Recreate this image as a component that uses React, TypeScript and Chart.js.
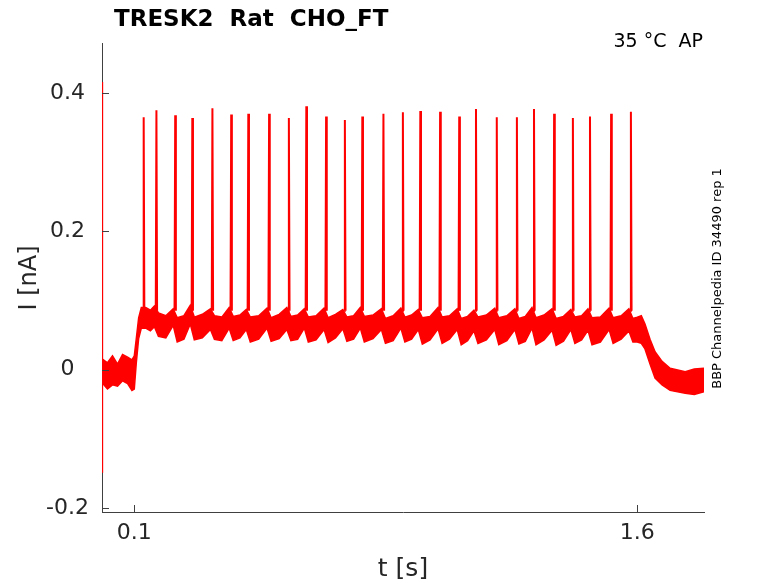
import React, { useEffect, useRef } from "react";
import { Chart, registerables } from "chart.js";

Chart.register(...registerables);

// ---- data ----
const xTicks = [0.1, 1.6];
const yTicks = [-0.2, 0, 0.2, 0.4];

const spikeTimes = [
  0.128, 0.166, 0.222, 0.273, 0.333, 0.389, 0.44, 0.502, 0.561, 0.613, 0.672, 0.728, 0.78, 0.843,
  0.901, 0.953, 1.012, 1.069, 1.119, 1.181, 1.241, 1.292, 1.352, 1.408, 1.459, 1.522, 1.581,
];
const spikePeaks = [
  0.365, 0.375, 0.368, 0.364, 0.378, 0.369, 0.37, 0.37, 0.364, 0.381, 0.366, 0.361, 0.366, 0.37,
  0.372, 0.374, 0.373, 0.366, 0.377, 0.365, 0.365, 0.377, 0.37, 0.364, 0.366, 0.37, 0.373,
];
const spikeFoot = 0.085;

const transientTimes = [0.0038, 0.0042, 0.0047, 0.006];
const transientValues = [0.0, 0.416, -0.149, 0.0];

const bandTimes = [
  0.006, 0.02, 0.035, 0.05, 0.065, 0.08, 0.093, 0.1, 0.106, 0.113, 0.121,
  0.134, 0.148, 0.16,
  0.172, 0.194, 0.216,
  0.228, 0.248, 0.267,
  0.279, 0.303, 0.327,
  0.339, 0.361, 0.383,
  0.395, 0.415, 0.434,
  0.446, 0.471, 0.496,
  0.508, 0.532, 0.555,
  0.567, 0.587, 0.607,
  0.619, 0.642, 0.666,
  0.678, 0.7, 0.722,
  0.734, 0.754, 0.774,
  0.786, 0.812, 0.837,
  0.849, 0.872, 0.895,
  0.907, 0.927, 0.947,
  0.959, 0.982, 1.006,
  1.018, 1.04, 1.063,
  1.075, 1.094, 1.113,
  1.125, 1.15, 1.175,
  1.187, 1.211, 1.235,
  1.247, 1.266, 1.286,
  1.298, 1.322, 1.346,
  1.358, 1.38, 1.402,
  1.414, 1.434, 1.453,
  1.465, 1.49, 1.516,
  1.528, 1.552, 1.575,
  1.587, 1.6, 1.612, 1.623, 1.638, 1.653, 1.674, 1.698, 1.743, 1.77, 1.799,
];
const bandUpper = [
  0.015, 0.01, 0.02, 0.008, 0.022, 0.018, 0.014, 0.02, 0.045, 0.075, 0.09,
  0.09, 0.086, 0.092,
  0.082, 0.078, 0.088,
  0.075, 0.078, 0.093,
  0.076, 0.08, 0.088,
  0.078, 0.076, 0.09,
  0.077, 0.079, 0.087,
  0.076, 0.078, 0.089,
  0.075, 0.08, 0.09,
  0.077, 0.079, 0.088,
  0.076, 0.078, 0.089,
  0.075, 0.08, 0.087,
  0.076, 0.078, 0.09,
  0.077, 0.079, 0.088,
  0.074, 0.078, 0.089,
  0.076, 0.079, 0.087,
  0.075, 0.077, 0.09,
  0.076, 0.078, 0.088,
  0.074, 0.077, 0.086,
  0.076, 0.079, 0.089,
  0.075, 0.078, 0.088,
  0.074, 0.077, 0.09,
  0.075, 0.079, 0.088,
  0.074, 0.077, 0.087,
  0.076, 0.078, 0.088,
  0.075, 0.076, 0.089,
  0.075, 0.078, 0.088,
  0.074, 0.076, 0.078, 0.066, 0.044, 0.026, 0.012, 0.002, -0.003, 0.001, 0.002,
];
const bandLower = [
  -0.02, -0.028, -0.022, -0.024, -0.016, -0.02, -0.03, -0.028, 0.01, 0.045, 0.06,
  0.06, 0.056, 0.062,
  0.048, 0.046, 0.064,
  0.04, 0.044, 0.066,
  0.043, 0.046, 0.058,
  0.044, 0.042, 0.06,
  0.042, 0.046, 0.058,
  0.04, 0.044, 0.06,
  0.041, 0.045, 0.058,
  0.042, 0.044, 0.06,
  0.04, 0.043, 0.058,
  0.039, 0.046, 0.059,
  0.041, 0.044, 0.06,
  0.04, 0.045, 0.058,
  0.038, 0.042, 0.06,
  0.04, 0.044, 0.058,
  0.037, 0.043, 0.059,
  0.038, 0.044, 0.058,
  0.036, 0.042, 0.056,
  0.038, 0.043, 0.058,
  0.036, 0.042, 0.058,
  0.037, 0.041, 0.06,
  0.036, 0.043, 0.057,
  0.035, 0.041, 0.058,
  0.038, 0.043, 0.057,
  0.036, 0.04, 0.058,
  0.038, 0.044, 0.056,
  0.04, 0.04, 0.038, 0.03, 0.008, -0.012, -0.022, -0.03, -0.034, -0.036, -0.032,
];

const titleText = "TRESK2  Rat  CHO_FT";
const conditionText = "35 °C  AP";
const sideText = "BBP Channelpedia ID 34490 rep 1";
const xLabel = "t [s]";
const yLabel = "I [nA]";

const FONT = "'DejaVu Sans', 'Liberation Sans', sans-serif";
const RED = "#ff0000";
const AXIS = "#404040";
const TEXT = "#262626";

export default function App() {
  const ref = useRef<HTMLCanvasElement | null>(null);

  useEffect(() => {
    if (!ref.current) return;

    const lower = bandTimes.map((t, i) => ({ x: t, y: bandLower[i] }));
    const upper = bandTimes.map((t, i) => ({ x: t, y: bandUpper[i] }));
    const spikes: { x: number; y: number | null }[] = [];
    spikeTimes.forEach((t, i) => {
      spikes.push({ x: t - 0.002, y: spikeFoot });
      spikes.push({ x: t, y: spikePeaks[i] });
      spikes.push({ x: t + 0.002, y: spikeFoot });
      spikes.push({ x: t + 0.0021, y: null });
    });
    const transient = transientTimes.map((t, i) => ({ x: t, y: transientValues[i] }));

    const decor = {
      id: "decor",
      afterDraw(chart: any) {
        const { ctx, chartArea, scales } = chart;
        ctx.save();
        ctx.strokeStyle = AXIS;
        ctx.lineWidth = 1;
        yTicks.forEach((v) => {
          const y = Math.round(scales.y.getPixelForValue(v)) + 0.5;
          ctx.beginPath();
          ctx.moveTo(chartArea.left, y);
          ctx.lineTo(chartArea.left + 7, y);
          ctx.stroke();
        });
        xTicks.forEach((v) => {
          const x = Math.round(scales.x.getPixelForValue(v)) + 0.5;
          ctx.beginPath();
          ctx.moveTo(x, chartArea.bottom);
          ctx.lineTo(x, chartArea.bottom - 7);
          ctx.stroke();
        });

        ctx.fillStyle = "#000000";
        ctx.textBaseline = "alphabetic";
        ctx.textAlign = "left";
        ctx.font = `bold 23px ${FONT}`;
        ctx.fillText(titleText, 114, 26);

        ctx.font = `19px ${FONT}`;
        ctx.textAlign = "right";
        ctx.fillText(conditionText, 703, 47);

        ctx.fillStyle = TEXT;
        ctx.font = `25px ${FONT}`;
        ctx.textAlign = "center";
        ctx.fillText(xLabel, 403, 576);

        ctx.save();
        ctx.translate(36, 278);
        ctx.rotate(-Math.PI / 2);
        ctx.font = `24px ${FONT}`;
        ctx.textAlign = "center";
        ctx.fillText(yLabel, 0, 0);
        ctx.restore();

        ctx.save();
        ctx.translate(720.5, 278.5);
        ctx.rotate(-Math.PI / 2);
        ctx.fillStyle = "#000000";
        ctx.font = `13px ${FONT}`;
        ctx.textAlign = "center";
        ctx.fillText(sideText, 0, 0);
        ctx.restore();

        ctx.restore();
      },
    };

    const chart = new Chart(ref.current, {
      type: "line",
      data: {
        datasets: [
          {
            data: lower,
            borderColor: RED,
            borderWidth: 1.5,
            pointRadius: 0,
            fill: false,
          },
          {
            data: upper,
            borderColor: RED,
            borderWidth: 1.5,
            pointRadius: 0,
            backgroundColor: RED,
            fill: "-1",
          },
          {
            data: spikes as any,
            borderColor: RED,
            borderWidth: 2,
            pointRadius: 0,
            fill: false,
            spanGaps: false,
          },
          {
            data: transient,
            borderColor: RED,
            borderWidth: 1.5,
            pointRadius: 0,
            fill: false,
          },
        ],
      },
      options: {
        animation: false,
        responsive: true,
        maintainAspectRatio: false,
        devicePixelRatio: 1,
        parsing: false,
        normalized: true,
        layout: { padding: { top: 43, right: 74, left: 0, bottom: 0 } },
        plugins: {
          legend: { display: false },
          tooltip: { enabled: false },
          title: { display: false },
        },
        elements: { line: { tension: 0 } },
        scales: {
          x: {
            type: "linear",
            min: 0.0037,
            max: 1.799,
            afterFit: (s: any) => {
              s.height = 71;
            },
            afterBuildTicks: (s: any) => {
              s.ticks = xTicks.map((v) => ({ value: v }));
            },
            grid: { display: false, drawTicks: false },
            border: { display: true, color: AXIS, width: 1 },
            ticks: {
              padding: 8,
              color: TEXT,
              font: { family: FONT, size: 22 },
              maxRotation: 0,
              callback: (v: any) => String(v),
            },
          },
          y: {
            type: "linear",
            min: -0.2058,
            max: 0.4723,
            afterFit: (s: any) => {
              s.width = 102;
            },
            afterBuildTicks: (s: any) => {
              s.ticks = yTicks.map((v) => ({ value: v }));
            },
            grid: { display: false, drawTicks: false },
            border: { display: true, color: AXIS, width: 1 },
            ticks: {
              padding: 13,
              crossAlign: "center",
              color: TEXT,
              font: { family: FONT, size: 22 },
              callback: (v: any) => String(Math.round(v * 10) / 10),
            },
          },
        },
      },
      plugins: [decor],
    });

    return () => chart.destroy();
  }, []);

  return (
    <div style={{ position: "fixed", left: 0, top: 0, width: 778, height: 583, background: "#ffffff" }}>
      <canvas ref={ref} />
    </div>
  );
}
